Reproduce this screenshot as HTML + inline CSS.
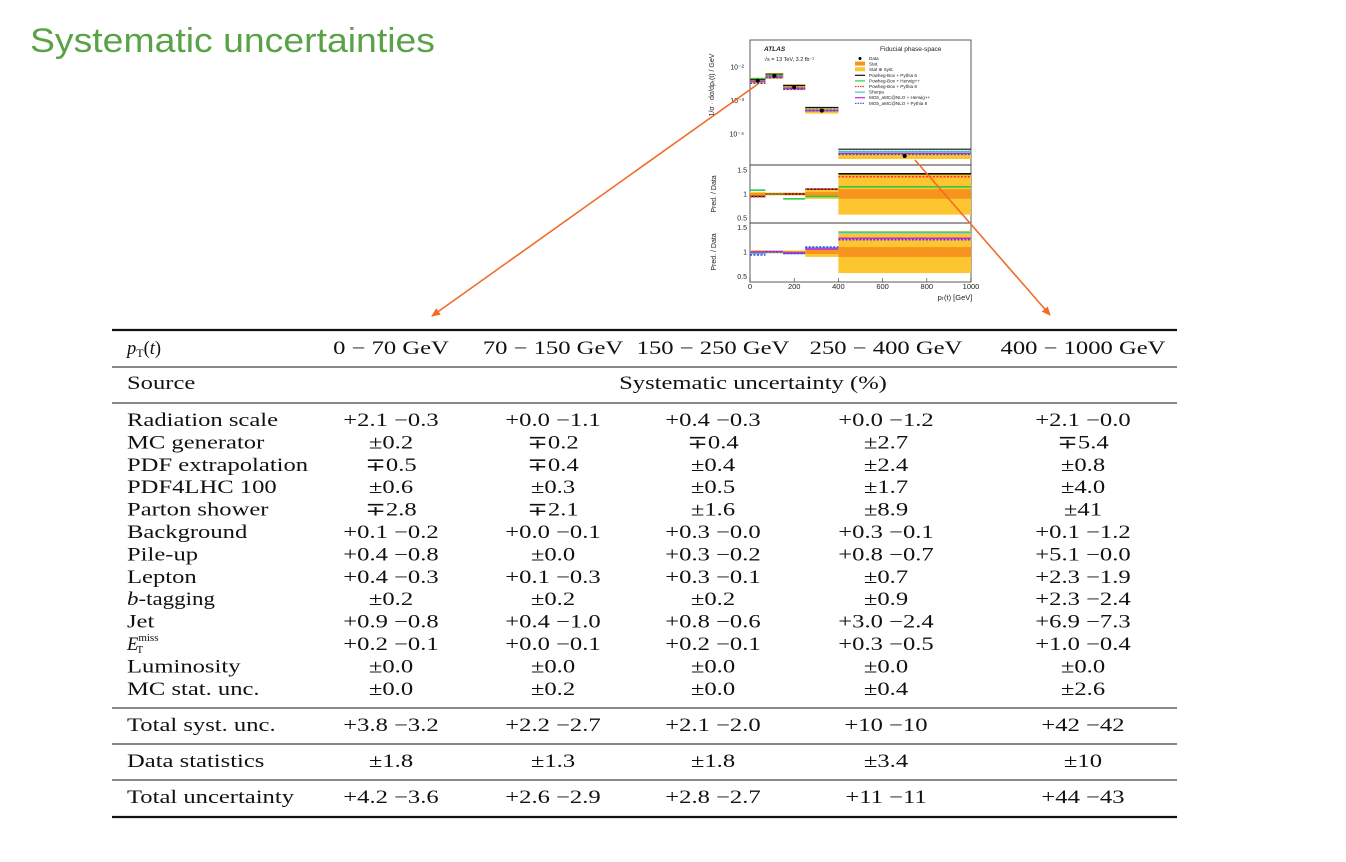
<!DOCTYPE html>
<html><head><meta charset="utf-8"><style>
html,body{margin:0;padding:0;background:#fff;}
svg{display:block;}
.t{font-family:"Liberation Serif",serif;font-size:18.5px;fill:#111;}
.s{font-family:"Liberation Sans",sans-serif;fill:#222;}
</style></head><body>
<svg id="root" width="1346" height="862" viewBox="0 0 1346 862" xmlns="http://www.w3.org/2000/svg">
<text x="30" y="52" font-family="Liberation Sans, sans-serif" font-size="34" fill="#5aa247" textLength="405" lengthAdjust="spacingAndGlyphs">Systematic uncertainties</text>

<g id="chart"></g>

<defs><marker id="ah" markerWidth="10" markerHeight="10" refX="8" refY="5" orient="auto" markerUnits="userSpaceOnUse"><path d="M0,1 L9,5 L0,9 Z" fill="#f26b2a"/></marker></defs>
<line x1="758" y1="84" x2="432" y2="316" stroke="#f26b2a" stroke-width="1.6" marker-end="url(#ah)"/>
<line x1="915" y1="160" x2="1050" y2="315" stroke="#f26b2a" stroke-width="1.6" marker-end="url(#ah)"/>

<g id="table"></g>
</svg>
<script>
// ---------- chart data ----------
const binEdges=[0,70,150,250,400,1000];
const dataVals=[0.0039,0.0054,0.0025,0.0005,0.000022];
const stat=[0.02,0.015,0.02,0.04,0.1];
const statSyst=[0.04,0.03,0.03,0.1,0.43];
const py6=[0.95,1.0,1.0,1.1,1.42];
const herwig=[1.08,1.0,0.9,0.95,1.15];
const py8=[0.94,1.0,1.0,1.1,1.36];
const sherpa=[0.97,1.0,0.97,1.08,1.4];
const mgHerwig=[1.0,1.01,0.98,1.06,1.28];
const mgPy8=[0.94,1.0,0.97,1.1,1.25];
const xTicks=[0,200,400,600,800,1000];
const yTicks=[-2,-3,-4];
const rTicks=[0.5,1,1.5];

const NS="http://www.w3.org/2000/svg";
const chart=document.getElementById('chart');
function el(t,a,p){const e=document.createElementNS(NS,t);for(const k in a)e.setAttribute(k,a[k]);(p||chart).appendChild(e);return e;}
const X=v=>750+v/1000*221;
const Ymain=v=>67-(Math.log10(v)+2)*33.5;
const R1=v=>194-(v-1)*48;
const R2=v=>252-(v-1)*49;

let f;
f=el('rect',{x:750,y:40,width:221,height:125,fill:'none',stroke:'#333','stroke-width':0.8});

f=el('rect',{x:750,y:165,width:221,height:58,fill:'none',stroke:'#333','stroke-width':0.8});

f=el('rect',{x:750,y:223,width:221,height:59,fill:'none',stroke:'#333','stroke-width':0.8});


for(let i=0;i<dataVals.length;i++){
  const x0=X(binEdges[i]),x1=X(binEdges[i+1]);
  [[R1,165,223],[R2,223,282]].forEach(([R,top,bot])=>{
    const yT=Math.max(top,R(1+statSyst[i])),yB=Math.min(bot,R(1-statSyst[i]));
    let b=el('rect',{x:x0,y:yT,width:x1-x0,height:yB-yT,fill:'#fdc530'});
    
    b=el('rect',{x:x0,y:R(1+stat[i]),width:x1-x0,height:R(1-stat[i])-R(1+stat[i]),fill:'#f7941d'});
    
  });
  const m=Ymain(dataVals[i]);
  let b=el('rect',{x:x0,y:m-3,width:x1-x0,height:6,fill:'#fdc530'});
  
  const lines=[[R1,py6,'#111',''],[R1,herwig,'#2ecc40',''],[R1,py8,'#ff3030','2,1.5'],[R2,sherpa,'#20d0d8',''],[R2,mgHerwig,'#cc22dd',''],[R2,mgPy8,'#4444ee','2,1.5']];
  lines.forEach(([R,arr,c,d],k)=>{
    let l=el('line',{x1:x0,x2:x1,y1:R(arr[i]),y2:R(arr[i]),stroke:c,'stroke-width':1.6,'stroke-dasharray':d});
    
    const ym=Ymain(dataVals[i]*arr[i])+(k-2.5)*0.7;
    l=el('line',{x1:x0,x2:x1,y1:ym,y2:ym,stroke:c,'stroke-width':1.2,'stroke-dasharray':d});
    
  });
  const cx=X((binEdges[i]+binEdges[i+1])/2);
  const p=el('circle',{cx:cx,cy:m,r:2,fill:'#000'});
  
}
xTicks.forEach(v=>{
  const t=el('text',{x:X(v),y:289,'font-size':7.5,'text-anchor':'middle',class:'s'});
  t.textContent=v;
  el('line',{x1:X(v),x2:X(v),y1:282,y2:278,stroke:'#333','stroke-width':0.6});
});
yTicks.forEach(v=>{
  const t=el('text',{x:744,y:Ymain(Math.pow(10,v))+2.5,'font-size':7,'text-anchor':'end',class:'s'});
  t.textContent='10'+({'-2':'⁻²','-3':'⁻³','-4':'⁻⁴'})[v];
  
});
rTicks.forEach(v=>{
  [R1,R2].forEach(R=>{
    const t=el('text',{x:747,y:R(v)+2.5,'font-size':7,'text-anchor':'end',class:'s'});
    t.textContent=v;
  });
});
let tt=el('text',{x:955,y:300,'font-size':7.5,'text-anchor':'middle',class:'s'});tt.textContent='pₜ(t) [GeV]';

tt=el('text',{x:0,y:0,'font-size':7,'text-anchor':'middle',class:'s',transform:'translate(714,85) rotate(-90)'});tt.textContent='1/σ · dσ/dpₜ(t) / GeV';

tt=el('text',{x:0,y:0,'font-size':7,'text-anchor':'middle',class:'s',transform:'translate(716,194) rotate(-90)'});tt.textContent='Pred. / Data';

tt=el('text',{x:0,y:0,'font-size':7,'text-anchor':'middle',class:'s',transform:'translate(716,252) rotate(-90)'});tt.textContent='Pred. / Data';

tt=el('text',{x:764,y:51,'font-size':6.5,'font-weight':'bold','font-style':'italic',class:'s'});tt.textContent='ATLAS';

tt=el('text',{x:764,y:61,'font-size':5.5,class:'s'});tt.textContent='√s = 13 TeV, 3.2 fb⁻¹';

tt=el('text',{x:880,y:51,'font-size':6.5,class:'s'});tt.textContent='Fiducial phase-space';

const legLabels=['Data','Stat.','Stat ⊕ Syst.','Powheg-Box + Pythia 6','Powheg-Box + Herwig++','Powheg-Box + Pythia 8','Sherpa','MG5_aMC@NLO + Herwig++','MG5_aMC@NLO + Pythia 8'];
const legColors=['#000','#f7941d','#fdc530','#111','#2ecc40','#ff3030','#20d0d8','#cc22dd','#4444ee'];
legLabels.forEach((s,i)=>{
  const y=60+i*5.6;
  if(i==0){el('circle',{cx:860,cy:y-1.5,r:1.5,fill:'#000'});}
  else if(i<3){el('rect',{x:855,y:y-4,width:10,height:4,fill:legColors[i]});}
  else el('line',{x1:855,x2:865,y1:y-1.5,y2:y-1.5,stroke:legColors[i],'stroke-width':1.2,'stroke-dasharray':(i==5||i==8)?'1.5,1':''});
  const t=el('text',{x:869,y:y,'font-size':4.6,class:'s'});t.textContent=s;
  
});

// ---------- table ----------
const table=document.getElementById('table');
const cols=[391,553,713,886,1083];
const headers=['0 − 70 GeV','70 − 150 GeV','150 − 250 GeV','250 − 400 GeV','400 − 1000 GeV'];
const rowNames=['Radiation scale','MC generator','PDF extrapolation','PDF4LHC 100','Parton shower','Background','Pile-up','Lepton','b-tagging','Jet','E_T^miss','Luminosity','MC stat. unc.'];
const rowVals=[
['+2.1 −0.3','+0.0 −1.1','+0.4 −0.3','+0.0 −1.2','+2.1 −0.0'],
['±0.2','∓0.2','∓0.4','±2.7','∓5.4'],
['∓0.5','∓0.4','±0.4','±2.4','±0.8'],
['±0.6','±0.3','±0.5','±1.7','±4.0'],
['∓2.8','∓2.1','±1.6','±8.9','±41'],
['+0.1 −0.2','+0.0 −0.1','+0.3 −0.0','+0.3 −0.1','+0.1 −1.2'],
['+0.4 −0.8','±0.0','+0.3 −0.2','+0.8 −0.7','+5.1 −0.0'],
['+0.4 −0.3','+0.1 −0.3','+0.3 −0.1','±0.7','+2.3 −1.9'],
['±0.2','±0.2','±0.2','±0.9','+2.3 −2.4'],
['+0.9 −0.8','+0.4 −1.0','+0.8 −0.6','+3.0 −2.4','+6.9 −7.3'],
['+0.2 −0.1','+0.0 −0.1','+0.2 −0.1','+0.3 −0.5','+1.0 −0.4'],
['±0.0','±0.0','±0.0','±0.0','±0.0'],
['±0.0','±0.2','±0.0','±0.4','±2.6']];
const sumRows=[['Total syst. unc.',726,['+3.8 −3.2','+2.2 −2.7','+2.1 −2.0','+10 −10','+42 −42']],
['Data statistics',762,['±1.8','±1.3','±1.8','±3.4','±10']],
['Total uncertainty',798,['+4.2 −3.6','+2.6 −2.9','+2.8 −2.7','+11 −11','+44 −43']]];
const WIDEN=1.33;
function T(x,y,s,anchor,name){const e=document.createElementNS(NS,'text');e.setAttribute('x',x);e.setAttribute('y',y);e.setAttribute('class','t');e.setAttribute('text-anchor',anchor);e.setAttribute('dominant-baseline','central');e.textContent=s;table.appendChild(e);
  if(s){const w=e.getComputedTextLength();if(w>0){e.setAttribute('textLength',(w*WIDEN).toFixed(1));e.setAttribute('lengthAdjust','spacingAndGlyphs');}}
  return e;}
function L(y,w){const e=document.createElementNS(NS,'line');e.setAttribute('x1',112);e.setAttribute('x2',1177);e.setAttribute('y1',y);e.setAttribute('y2',y);e.setAttribute('stroke','#111');e.setAttribute('stroke-width',w);table.appendChild(e);}
[[330,2.2],[367,1],[403,1],[708,1],[744,1],[780,1],[817,2.2]].forEach(a=>L(a[0],a[1]));
let h=T(127,349,'','start','pt-header');
h.innerHTML='<tspan font-style="italic">p</tspan><tspan font-size="12" dy="4">T</tspan><tspan dy="-4">(</tspan><tspan font-style="italic">t</tspan>)';
headers.forEach((s,i)=>T(cols[i],349,s,'middle','bin-header'));
T(127,384,'Source','start','source-header');
T(753,384,'Systematic uncertainty (%)','middle','unit-header');
rowNames.forEach((n,r)=>{
  const y=421+r*22.4;
  let e;
  if(n=='E_T^miss'){e=T(127,y,'','start','row-label');e.innerHTML='<tspan font-style="italic">E</tspan><tspan font-size="11" dy="-7">miss</tspan><tspan font-size="11" dx="-22" dy="12">T</tspan>';}
  else if(n=='b-tagging'){e=T(127,y,'','start','row-label');e.innerHTML='<tspan font-style="italic">b</tspan>-tagging';e.setAttribute('textLength','88');e.setAttribute('lengthAdjust','spacingAndGlyphs');}
  else T(127,y,n,'start','row-label');
  rowVals[r].forEach((v,c)=>T(cols[c],y,v,'middle','cell-value'));
});
sumRows.forEach(s=>{T(127,s[1],s[0],'start','summary-label');s[2].forEach((v,c)=>T(cols[c],s[1],v,'middle','summary-value'));});
</script>
</body></html>
